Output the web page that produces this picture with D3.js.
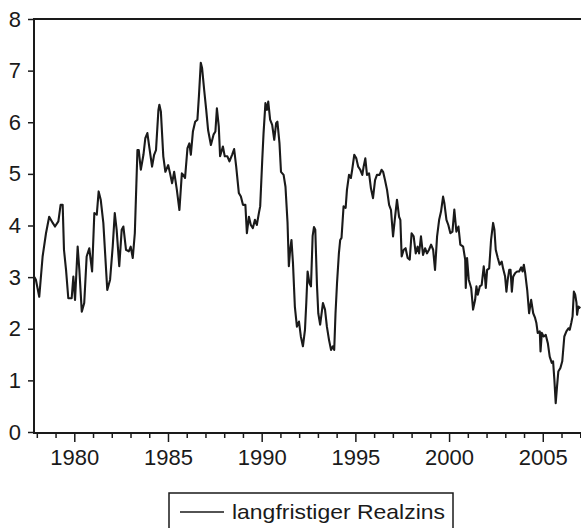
<!DOCTYPE html>
<html>
<head>
<meta charset="utf-8">
<script src="https://cdn.jsdelivr.net/npm/d3@7"></script>
<style>
  html, body { margin: 0; padding: 0; background: #fff; }
  svg { display: block; }
  text { font-family: "Liberation Sans", Arial, sans-serif; fill: #1a1a1a; }
</style>
</head>
<body>
<div id="chart"></div>
<script>
// ---- data ----
const seriesName = "langfristiger Realzins";
const dates = [
  1977.87,1977.95,1978.13,1978.31,1978.49,1978.66,1978.85,1978.97,1979.15,1979.27,1979.38,1979.45,1979.56,1979.68,1979.86,1979.95,
  1980.04,1980.18,1980.27,1980.40,1980.53,1980.66,1980.80,1980.95,1981.07,1981.20,1981.30,1981.41,1981.55,1981.76,1981.91,
  1982.05,1982.16,1982.26,1982.40,1982.53,1982.62,1982.76,1982.91,1983.01,1983.12,1983.23,1983.37,1983.44,1983.55,1983.69,1983.79,1983.90,
  1984.01,1984.15,1984.26,1984.36,1984.49,1984.54,1984.62,1984.75,1984.86,1985.01,1985.11,1985.22,1985.33,1985.47,1985.61,1985.74,1985.82,1985.91,
  1986.04,1986.14,1986.22,1986.33,1986.45,1986.57,1986.65,1986.75,1986.82,1986.93,1987.04,1987.14,1987.29,1987.43,1987.53,1987.61,1987.71,1987.78,1987.93,
  1988.03,1988.17,1988.28,1988.42,1988.53,1988.64,1988.78,1988.89,1989.00,1989.13,1989.21,1989.32,1989.42,1989.53,1989.64,1989.74,1989.85,1989.92,
  1990.03,1990.10,1990.20,1990.28,1990.35,1990.45,1990.56,1990.67,1990.77,1990.84,1990.95,1991.03,1991.17,1991.27,1991.38,1991.45,1991.52,1991.59,1991.67,1991.77,1991.88,1991.99,
  1992.09,1992.20,1992.31,1992.38,1992.45,1992.55,1992.63,1992.72,1992.79,1992.86,1992.95,1993.02,1993.12,1993.27,1993.38,1993.48,1993.59,1993.70,1993.80,1993.87,1993.94,
  1994.02,1994.12,1994.19,1994.26,1994.37,1994.48,1994.55,1994.66,1994.76,1994.83,1994.94,1995.05,1995.15,1995.26,1995.37,1995.44,1995.53,1995.62,1995.73,1995.83,1995.94,
  1996.05,1996.15,1996.29,1996.40,1996.48,1996.58,1996.69,1996.80,1996.90,1997.01,1997.12,1997.22,1997.33,1997.40,1997.47,1997.58,1997.68,1997.79,1997.90,
  1998.00,1998.11,1998.22,1998.32,1998.40,1998.50,1998.61,1998.72,1998.82,1998.93,1999.04,1999.15,1999.25,1999.36,1999.47,1999.57,1999.68,1999.75,1999.86,1999.96,
  2000.07,2000.18,2000.28,2000.39,2000.50,2000.60,2000.75,2000.86,2000.89,2000.96,2001.05,2001.18,2001.28,2001.39,2001.46,2001.53,2001.64,2001.74,2001.85,2001.92,2001.96,
  2002.03,2002.14,2002.24,2002.35,2002.42,2002.49,2002.60,2002.70,2002.81,2002.88,2002.99,2003.06,2003.13,2003.21,2003.28,2003.35,2003.42,2003.53,2003.63,2003.74,2003.85,2003.92,2003.99,
  2004.06,2004.17,2004.27,2004.38,2004.49,2004.59,2004.66,2004.73,2004.84,2004.88,2004.95,2005.05,2005.16,2005.27,2005.37,2005.48,2005.55,2005.62,2005.69,2005.76,2005.83,2005.94,
  2006.04,2006.15,2006.26,2006.37,2006.44,2006.52,2006.59,2006.66,2006.73,2006.80,2006.83,2006.90,2007.01
];
const values = [
  3.00,2.95,2.62,3.40,3.85,4.17,4.05,3.98,4.08,4.40,4.40,3.53,3.14,2.59,2.59,3.01,
  2.56,3.59,3.14,2.33,2.50,3.40,3.56,3.11,4.24,4.21,4.66,4.50,4.05,2.75,2.95,
  3.59,4.24,3.92,3.21,3.92,3.98,3.53,3.50,3.59,3.37,3.85,5.46,5.46,5.08,5.37,5.69,5.79,
  5.50,5.14,5.37,5.46,6.24,6.34,6.21,5.34,5.04,5.17,5.01,4.82,5.04,4.70,4.30,5.01,4.98,4.92,
  5.50,5.59,5.37,5.82,6.01,6.05,6.50,7.15,7.05,6.63,6.24,5.85,5.56,5.76,5.82,6.27,5.92,5.34,5.53,
  5.34,5.34,5.24,5.37,5.48,5.14,4.63,4.56,4.40,4.40,3.85,4.17,4.01,3.95,4.11,4.01,4.24,4.37,
  5.27,5.79,6.37,6.24,6.40,6.05,5.95,5.66,5.98,6.01,5.59,5.04,4.98,4.75,4.05,3.21,3.53,3.72,3.27,2.43,2.04,2.14,
  1.85,1.66,1.98,2.50,3.11,2.88,2.82,3.80,3.97,3.92,2.85,2.30,2.08,2.50,2.37,2.04,1.79,1.59,1.66,1.59,2.30,
  2.88,3.46,3.72,3.76,4.37,4.34,4.69,4.98,4.92,5.08,5.37,5.30,5.14,5.08,4.98,5.14,5.30,4.98,5.01,4.72,4.53,
  4.88,4.98,4.98,5.08,5.04,4.88,4.69,4.40,4.30,3.79,4.17,4.50,4.17,4.11,3.40,3.53,3.56,3.37,3.34,
  3.85,3.79,3.46,3.59,3.46,3.79,3.43,3.56,3.46,3.53,3.63,3.53,3.14,3.79,4.11,4.27,4.56,4.43,4.11,4.01,
  3.85,3.88,4.31,3.88,3.98,3.63,3.59,3.34,2.79,3.37,2.95,2.79,2.37,2.56,2.82,2.66,2.82,2.85,3.21,2.98,2.79,
  3.14,3.17,3.72,4.05,3.92,3.53,3.37,3.24,3.30,3.17,3.01,2.72,2.95,3.14,3.14,2.72,3.01,3.08,3.11,3.11,3.19,3.11,3.24,
  3.08,2.75,2.30,2.56,2.30,2.21,2.11,1.92,1.95,1.56,1.92,1.85,1.88,1.72,1.46,1.34,1.37,1.01,0.56,0.88,1.17,1.24,
  1.37,1.85,1.95,2.01,1.98,2.11,2.24,2.72,2.66,2.50,2.27,2.43,2.40
];
const yTicks = [0, 1, 2, 3, 4, 5, 6, 7, 8];
const xMajorTicks = [1980, 1985, 1990, 1995, 2000, 2005];
const xMinorTicks = [1978,1979,1981,1982,1983,1984,1986,1987,1988,1989,1991,1992,1993,1994,1996,1997,1998,1999,2001,2002,2003,2004,2006,2007];

// ---- layout ----
const W = 581, H = 528;
const plot = { left: 34, top: 19, right: 581, bottom: 432 };
const ink = "#1a1a1a";
const fontStack = '"Liberation Sans", Arial, sans-serif';

const svg = d3.select("#chart").append("svg")
  .attr("width", W).attr("height", H)
  .attr("viewBox", `0 0 ${W} ${H}`);

svg.append("rect").attr("width", W).attr("height", H).attr("fill", "#fff");

const x = d3.scaleLinear().domain([1977.85, 2007.04]).range([plot.left, plot.right]);
const y = d3.scaleLinear().domain([0, 8]).range([plot.bottom, plot.top]);

// top border
svg.append("line")
  .attr("x1", plot.left).attr("x2", W)
  .attr("y1", y(8)).attr("y2", y(8))
  .attr("stroke", ink).attr("stroke-width", 2);

// y axis
const yAxis = svg.append("g")
  .attr("transform", `translate(${plot.left},0)`)
  .call(d3.axisLeft(y).tickValues(yTicks).tickSize(6).tickPadding(7).tickFormat(d3.format("d")));
yAxis.select(".domain").remove();
yAxis.selectAll(".tick line").attr("stroke", ink).attr("stroke-width", 1.5);
yAxis.selectAll(".tick text").attr("font-size", 22).attr("fill", ink)
  .style("font-family", fontStack);
svg.append("line")
  .attr("x1", plot.left).attr("x2", plot.left)
  .attr("y1", y(8) - 1).attr("y2", plot.bottom + 2)
  .attr("stroke", ink).attr("stroke-width", 2);

// x axis
const axisY = plot.bottom + 1;
svg.append("line")
  .attr("x1", plot.left).attr("x2", W)
  .attr("y1", axisY).attr("y2", axisY)
  .attr("stroke", ink).attr("stroke-width", 2);

const xMinor = svg.append("g")
  .attr("transform", `translate(0,${axisY})`)
  .call(d3.axisBottom(x).tickValues(xMinorTicks).tickSize(5).tickFormat(""));
xMinor.select(".domain").remove();
xMinor.selectAll(".tick line").attr("stroke", ink).attr("stroke-width", 1.5);

const xMajor = svg.append("g")
  .attr("transform", `translate(0,${axisY})`)
  .call(d3.axisBottom(x).tickValues(xMajorTicks).tickSize(9).tickPadding(7).tickFormat(d3.format("d")));
xMajor.select(".domain").remove();
xMajor.selectAll(".tick line").attr("stroke", ink).attr("stroke-width", 1.5);
xMajor.selectAll(".tick text").attr("font-size", 22).attr("fill", ink)
  .style("font-family", fontStack);

// series line
const pts = dates.map((d, i) => [d, values[i]]);
const line = d3.line().x(d => x(d[0])).y(d => y(d[1])).curve(d3.curveLinear);
svg.append("path")
  .datum(pts)
  .attr("d", line)
  .attr("fill", "none")
  .attr("stroke", ink)
  .attr("stroke-width", 2.1)
  .attr("stroke-linejoin", "round");

// legend
const lg = svg.append("g");
lg.append("rect")
  .attr("x", 169).attr("y", 493).attr("width", 284).attr("height", 60)
  .attr("fill", "#fff").attr("stroke", ink).attr("stroke-width", 1.5);
lg.append("line")
  .attr("x1", 180).attr("x2", 224).attr("y1", 512).attr("y2", 512)
  .attr("stroke", ink).attr("stroke-width", 1.5);
lg.append("text")
  .attr("x", 232).attr("y", 519)
  .attr("font-size", 21)
  .attr("textLength", 213).attr("lengthAdjust", "spacingAndGlyphs")
  .text(seriesName);
</script>
</body>
</html>
